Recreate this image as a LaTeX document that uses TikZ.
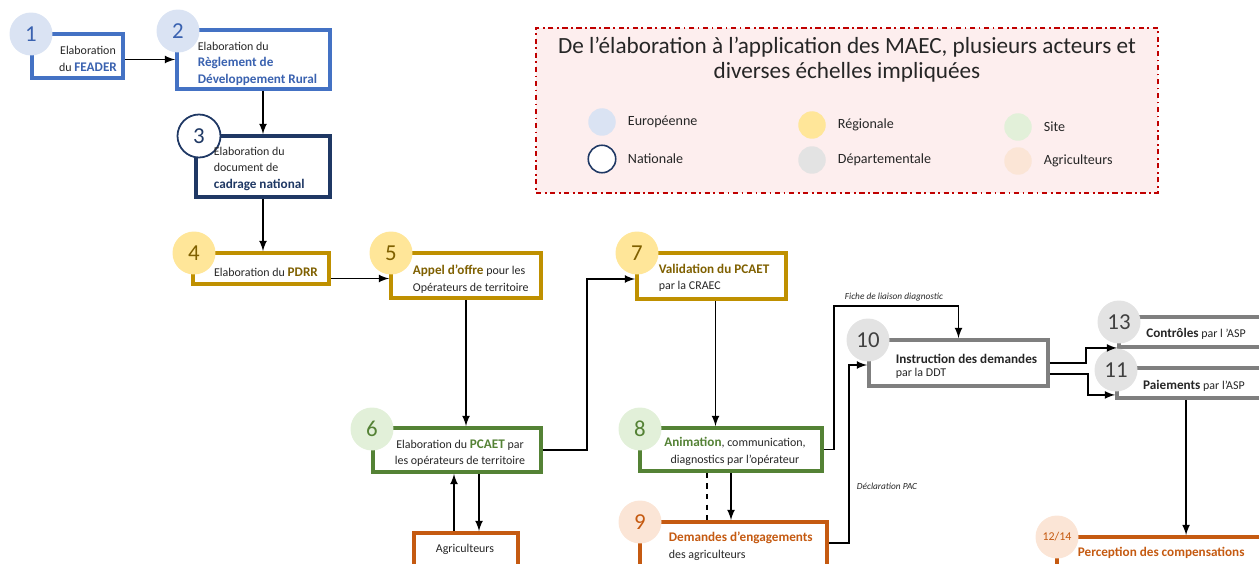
\documentclass[tikz,border=0pt]{standalone}
\usepackage{fontspec}
\setmainfont{Carlito}
\usetikzlibrary{calc}
\usetikzlibrary{arrows}
\usetikzlibrary{positioning}
\usepackage{xcolor}
\definecolor{bleu}{HTML}{4472C4}
\definecolor{bleuclair}{HTML}{DAE3F3}
\definecolor{bleutxt}{HTML}{3A62B0}
\definecolor{marine}{HTML}{1F3864}
\definecolor{or}{HTML}{BF9000}
\definecolor{jaune}{HTML}{FFE699}
\definecolor{ortxt}{HTML}{7F6000}
\definecolor{vert}{HTML}{548235}
\definecolor{vertclair}{HTML}{E2F0D9}
\definecolor{brique}{HTML}{C55A11}
\definecolor{peche}{HTML}{FBE5D6}
\definecolor{gris}{HTML}{7F7F7F}
\definecolor{grisclair}{HTML}{E3E3E3}
\definecolor{gristxt}{HTML}{404040}
\definecolor{rose}{HTML}{FDEEEE}
\definecolor{rouge}{HTML}{C00000}
\definecolor{texte}{HTML}{262626}
\newcommand{\gras}[2]{{\fontsize{7.5}{9.4}\selectfont\bfseries\color{#1}#2}}

\begin{document}
\begin{tikzpicture}[x=.02cm, y=-.02cm, >=latex, line width=1pt,
 etape/.style={draw, line width=2.2pt, fill=white, inner sep=0pt},
 boite/.style 2 args={minimum width=#1*.02cm, minimum height=#2*.02cm},
 num/.style={circle, minimum size=.86cm, inner sep=0pt, font=\fontsize{13}{13}\selectfont},
 txt/.style={font=\fontsize{6.8}{9.4}\selectfont, text=texte, inner sep=0pt},
 petit/.style={font=\fontsize{5.3}{6}\selectfont\itshape, text=texte, inner sep=0pt},
 leg/.style={font=\fontsize{8}{8}\selectfont, text=texte, inner sep=0pt}]
\clip (0,0) rectangle (1259,564);

% legende
\node[draw=rouge, dash dot, line width=.6pt, fill=rose, boite={622}{165}] (legende) at (847,110.5) {};
\node[font=\fontsize{13.2}{14.4}\selectfont, text=texte, align=center] (titre) at (847,59.5) {De l’élaboration à l’application des MAEC, plusieurs acteurs et\\diverses échelles impliquées};
\foreach \x/\y/\c/\d/\l [count=\i] in {602/122/bleuclair/none/Européenne, 602/159/white/marine/Nationale, 812/125/jaune/none/Régionale, 812/160/grisclair/none/Départementale, 1018/127/vertclair/none/Site, 1018/161/peche/none/Agriculteurs} {
 \node[circle, minimum size=.55cm, fill=\c, draw=\d, line width=.9pt] (rond\i) at (\x,\y) {};
 \node[leg, right=6pt of rond\i] (nom\i) {\l};
}

% etapes
\node[etape, draw=bleu, boite={91}{44}] (b1) at (77.5,56) {};
\node[etape, draw=bleu, boite={153}{59}] (b2) at (253.5,59.5) {};
\node[etape, draw=marine, boite={134}{61}] (b3) at (263,166.5) {};
\node[etape, draw=or, boite={136}{31}] (b4) at (261,268.5) {};
\node[etape, draw=or, boite={150}{45}] (b5) at (466,275.5) {};
\node[etape, draw=or, boite={149}{46}] (b7) at (711.5,276) {};
\node[etape, draw=vert, boite={168}{44}] (b6) at (457,450) {};
\node[etape, draw=vert, boite={182}{43}] (b8) at (731,449.5) {};
\node[etape, draw=brique, boite={104}{62}] (agri) at (466,564) {};
\node[etape, draw=brique, boite={187}{68}] (b9) at (733.5,556) {};
\node[etape, draw=gris, boite={179}{46}] (b10) at (958.5,363) {};
\node[etape, draw=gris, boite={181}{30}] (b13) at (1209.5,332) {};
\node[etape, draw=gris, boite={183}{30}] (b11) at (1208.5,383) {};
\node[etape, draw=brique, boite={243}{63}] (b12) at (1178.5,568.5) {};

% numeros
\foreach \n/\x/\y/\c/\t in {1/31/34/bleuclair/bleutxt, 2/178/31/bleuclair/bleutxt, 4/194/253/jaune/ortxt, 5/391/253/jaune/ortxt, 7/637/253/jaune/ortxt, 6/372/429/vertclair/vert, 8/640/429/vertclair/vert, 9/640/522/peche/brique, 10/868/340/grisclair/gristxt, 13/1119/322/grisclair/gristxt, 11/1116/370/grisclair/gristxt}
 \node[num, fill=\c, text=\t] (c\n) at (\x,\y) {\n};
\node[num, fill=white, draw=marine, line width=1pt, text=marine] (c3) at (199,136) {3};
\node[num, fill=peche, text=brique, font=\fontsize{6.8}{7}\selectfont] (c12) at (1057,537) {12/14};

% textes
\node[txt, align=center] (t1) at (88,59) {Elaboration\\du \gras{bleutxt}{FEADER}};
\node[txt, align=left, anchor=west] (t2) at (197,63.5) {Elaboration du\\\gras{bleutxt}{Règlement de}\\\gras{bleutxt}{Développement Rural}};
\node[txt, align=left, anchor=west] (t3) at (213,168.5) {Elaboration du\\document de\\\gras{marine}{cadrage national}};
\node[txt] (t4) at (266,272) {Elaboration du \gras{ortxt}{PDRR}};
\node[txt, align=left, anchor=west] (t5) at (412,279) {\gras{ortxt}{Appel d’offre} pour les\\Opérateurs de territoire};
\node[txt, align=left, anchor=west] (t7) at (658,278) {\gras{ortxt}{Validation du PCAET}\\par la CRAEC};
\node[txt, align=center] (t6) at (460,453) {Elaboration du \gras{vert}{PCAET} par\\les opérateurs de territoire};
\node[txt, align=center] (t8) at (735,451.5) {\gras{vert}{Animation}, communication,\\diagnostics par l’opérateur};
\node[txt, align=left, anchor=west] (t9) at (668,546) {\gras{brique}{Demandes d’engagements}\\des agriculteurs};
\node[txt] (tagri) at (465,549) {Agriculteurs};
\node[txt, align=left, anchor=west, font=\fontsize{6.8}{7.4}\selectfont] (t10) at (895,366) {\gras{texte}{Instruction des demandes}\\par la DDT};
\node[txt] (t13) at (1196,334) {\gras{texte}{Contrôles} par l ’ASP};
\node[txt] (t11) at (1194,386) {\gras{texte}{Paiements} par l’ASP};
\node[txt, anchor=west] (t12) at (1077,553) {\gras{brique}{Perception des compensations}};

% fleches
\draw[->] (b1.east |- b2.west) -- (b2.west);
\draw[->] (b2.south -| b3.north) -- (b3.north);
\draw[->] (b3.south) -- (b3.south |- b4.north);
\draw[->] ($(b4.east)+(0,10)$) coordinate (a45) -- (a45 -| b5.west);
\draw[->] (b5.south) -- (b5.south |- b6.north);
\draw[->] (b6.east) -- ++(44,0) |- ($(b7.west)+(0,3)$);
\draw[->] ($(b7.south)+(4,0)$) coordinate (a78) -- (a78 |- b8.north);
\draw[->] ($(agri.north)+(-12,0)$) coordinate (ag1) -- (ag1 |- b6.south);
\draw[->] ($(b6.south)+(22,0)$) coordinate (ag2) -- (ag2 |- agri.north);
\draw[->] (b8.south) -- (b8.south |- b9.north);
\draw[dashed] ($(b8.south)+(-24,0)$) coordinate (a89) -- (a89 |- b9.north);
\draw[->] (b8.east) -- ++(10,0) |- ($(b10.north)+(0,-32)$) -- (b10.north);
\draw[->] ($(b9.north east)+(0,23)$) -- ++(20,0) |- ($(b10.west)+(0,2)$);
\draw[->] (b10.east) -- ++(36,0) |- ($(b13.south west)+(0,-1)$);
\draw[->] ($(b10.east)+(0,11)$) -- ++(38,0) |- ($(b11.south west)+(0,-5)$);
\draw[->] ($(b11.south west)+(71,0)$) coordinate (a1112) -- (a1112 |- b12.north);
\node[petit] (fiche) at (894,297) {Fiche de liaison diagnostic};
\node[petit] (pac) at (887,486) {Déclaration PAC};
\end{tikzpicture}
\end{document}
